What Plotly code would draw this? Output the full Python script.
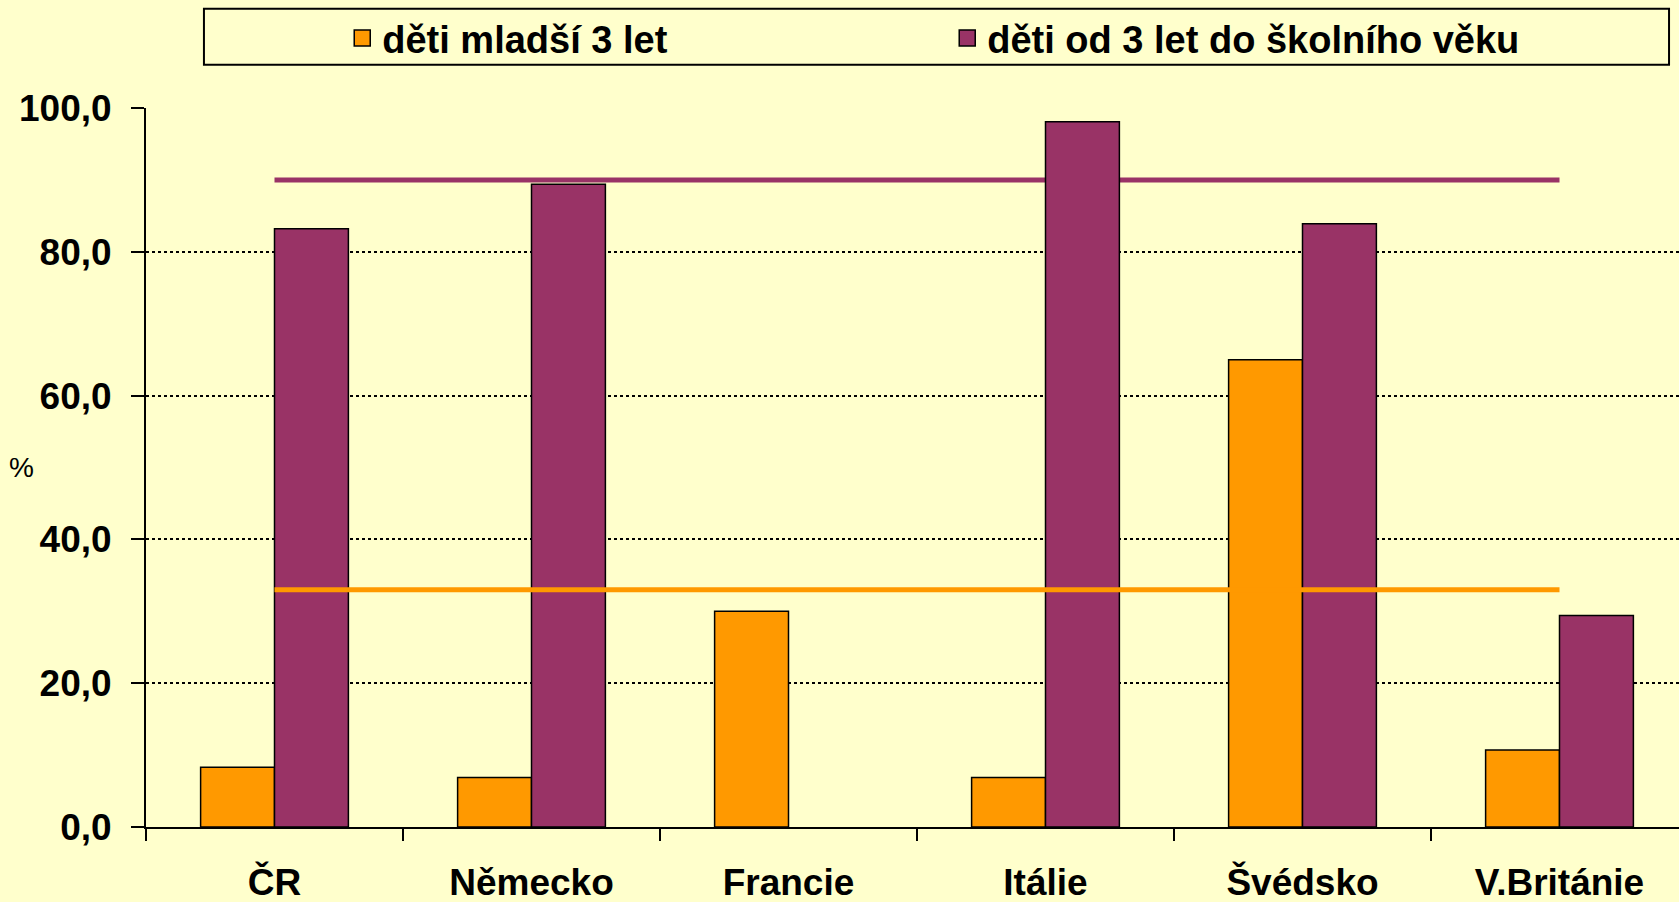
import plotly.graph_objects as go

countries = ["ČR", "Německo", "Francie", "Itálie", "Švédsko", "V.Británie"]
under_3 = [8.3, 6.9, 30.0, 6.9, 65.0, 10.7]
from_3_to_school = [83.2, 89.4, None, 98.1, 83.9, 29.4]
target_under_3 = [33] * len(countries)
target_from_3 = 90

series_names = ["děti mladší 3 let", "děti od 3 let do školního věku"]
y_ticks = [0, 20, 40, 60, 80, 100]

ORANGE = "#FF9900"
PURPLE = "#993366"
BG = "#FFFFCC"
FONT = "Liberation Sans, Arial, sans-serif"

fig = go.Figure()

for name, vals, color in [(series_names[0], under_3, ORANGE),
                          (series_names[1], from_3_to_school, PURPLE)]:
    fig.add_trace(go.Bar(x=countries, y=vals, name=name, legendgroup=name,
                         marker=dict(color=color, line=dict(color="black", width=1.5)),
                         showlegend=False))
    # bigger legend swatch than the bar default
    fig.add_trace(go.Scatter(x=[None], y=[None], mode="markers", name=name,
                             legendgroup=name,
                             marker=dict(symbol="square", size=16, color=color,
                                         line=dict(color="black", width=1.5))))

# orange target line sits on top of the bars
fig.add_trace(go.Scatter(x=countries, y=target_under_3, mode="lines",
                         line=dict(color=ORANGE, width=5), showlegend=False,
                         hoverinfo="skip"))

# purple target line goes behind the bars
purple_target = dict(type="line", xref="x", yref="y",
                     x0=countries[0], x1=countries[-1],
                     y0=target_from_3, y1=target_from_3,
                     line=dict(color=PURPLE, width=5), layer="below")
legend_box = dict(type="rect", xref="paper", yref="paper",
                  x0=0.0378, x1=0.9935, y0=1.060, y1=1.138,
                  line=dict(color="black", width=2), fillcolor=BG, layer="below")

fig.update_layout(
    width=1679,
    height=902,
    paper_bgcolor=BG,
    plot_bgcolor=BG,
    separators=", ",
    barmode="group",
    bargap=0.425,
    bargroupgap=0,
    margin=dict(l=146, r=0, t=108, b=75),
    font=dict(family=FONT, size=37, color="black"),
    legend=dict(
        orientation="h",
        x=0.128,
        xanchor="left",
        y=1.097,
        yanchor="middle",
        bgcolor="rgba(0,0,0,0)",
        borderwidth=0,
        entrywidth=560,
        entrywidthmode="pixels",
        font=dict(size=38, family=FONT, weight="bold"),
    ),
    shapes=[purple_target, legend_box],
    annotations=[dict(text="%", xref="paper", yref="paper", x=-0.0906, y=0.5,
                      showarrow=False, font=dict(size=28, family=FONT))],
)

fig.update_xaxes(
    range=[-0.5, 5.465],
    showline=True,
    linecolor="black",
    linewidth=2,
    ticks="outside",
    tickson="boundaries",
    ticklen=12,
    tickwidth=1.5,
    tickcolor="black",
    ticklabelstandoff=22,
    tickfont=dict(size=37, family=FONT, weight="bold"),
    showgrid=False,
)
fig.update_yaxes(
    range=[0, 100],
    tickvals=y_ticks,
    tickformat=".1f",
    showline=True,
    linecolor="black",
    linewidth=2,
    ticks="outside",
    ticklen=13,
    tickwidth=2,
    tickcolor="black",
    ticklabelstandoff=12,
    tickfont=dict(size=37, family=FONT, weight="bold"),
    showgrid=True,
    gridcolor="black",
    gridwidth=2,
    griddash="dot",
    zeroline=False,
)

fig.write_html("out.html", config={"displayModeBar": False},
               post_script="document.body.style.margin='0';")
